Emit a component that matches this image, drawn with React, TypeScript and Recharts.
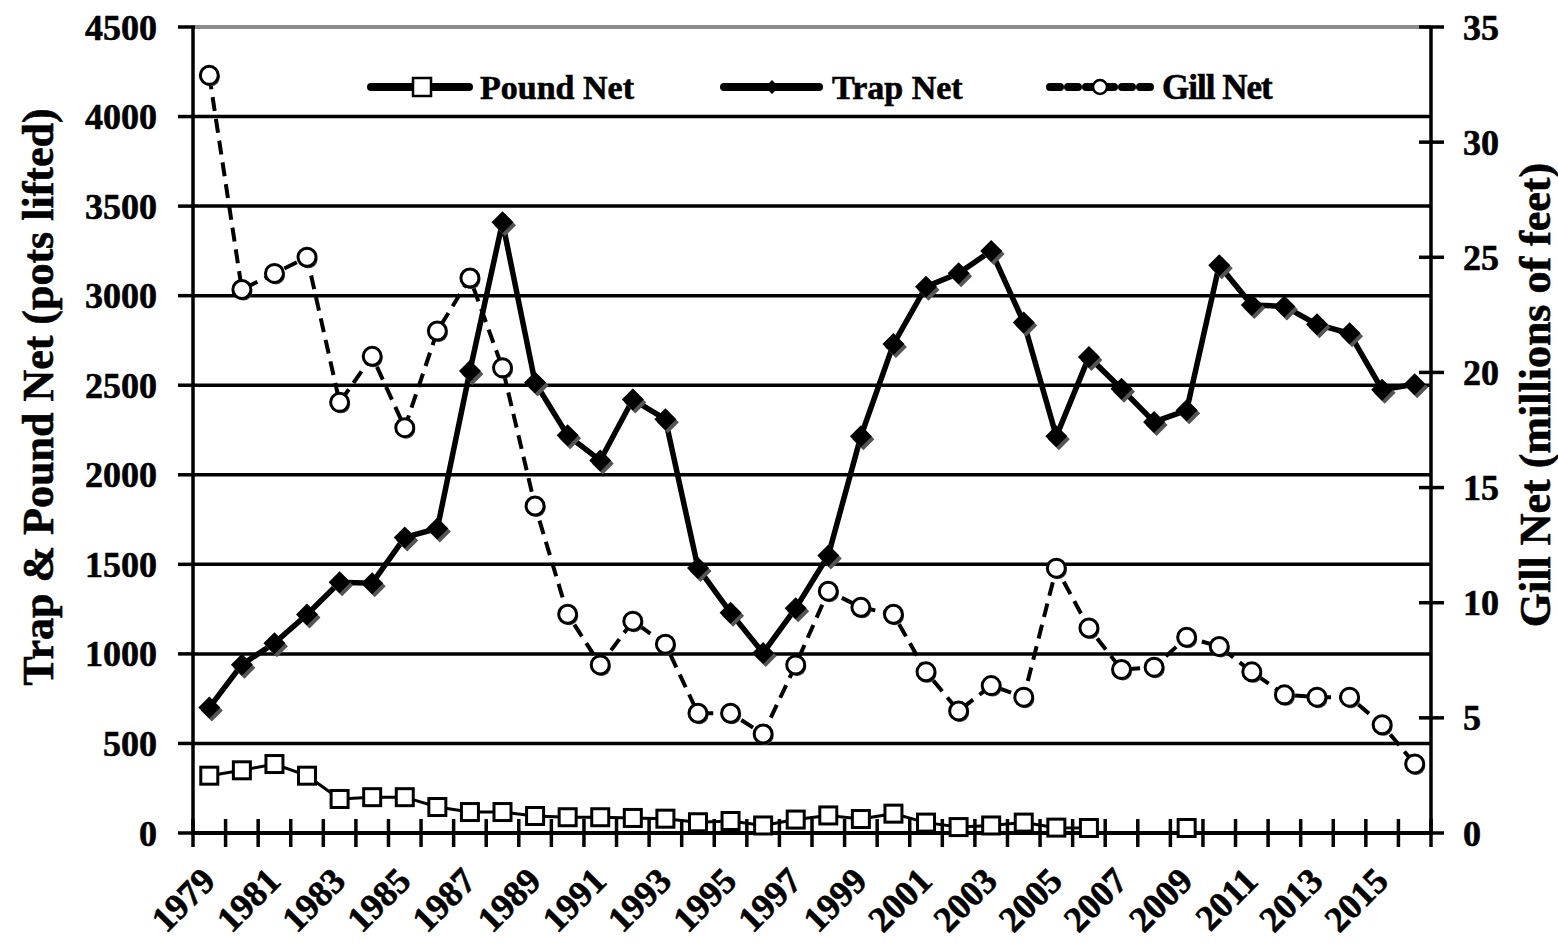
import React from 'react';
import { LineChart, Line, XAxis, YAxis, CartesianGrid, ReferenceLine } from 'recharts';

const years = [
  '1979', '1980', '1981', '1982', '1983', '1984', '1985', '1986', '1987', '1988',
  '1989', '1990', '1991', '1992', '1993', '1994', '1995', '1996', '1997', '1998',
  '1999', '2000', '2001', '2002', '2003', '2004', '2005', '2006', '2007', '2008',
  '2009', '2010', '2011', '2012', '2013', '2014', '2015', '2016',
];

// Pound Net (pots lifted), left axis
const poundNet: (number | null)[] = [
  320, 350, 385, 320, 190, 200, 200, 145, 117, 117,
  95, 88, 88, 84, 80, 60, 67, 42, 75, 98,
  78, 108, 58, 33, 42, 58, 30, 28, null, null,
  28, null, null, null, null, null, null, null,
];

// Trap Net (pots lifted), left axis
const trapNet: number[] = [
  700, 940, 1060, 1220, 1400, 1395, 1650, 1700, 2580, 3410,
  2515, 2220, 2080, 2420, 2310, 1480, 1230, 1005, 1255, 1550,
  2215, 2730, 3050, 3125, 3250, 2850, 2215, 2658, 2480, 2295,
  2360, 3170, 2948, 2940, 2840, 2790, 2475, 2505,
];

// Gill Net (millions of feet), right axis
const gillNet: number[] = [
  32.9, 23.6, 24.3, 25.0, 18.7, 20.7, 17.6, 21.8, 24.1, 20.2,
  14.2, 9.5, 7.3, 9.2, 8.2, 5.2, 5.2, 4.3, 7.3, 10.5,
  9.8, 9.5, 7.0, 5.3, 6.4, 5.9, 11.5, 8.9, 7.1, 7.2,
  8.5, 8.1, 7.0, 6.0, 5.9, 5.9, 4.7, 3.0,
];

const leftTicks = [0, 500, 1000, 1500, 2000, 2500, 3000, 3500, 4000, 4500];
const rightTicks = [0, 5, 10, 15, 20, 25, 30, 35];

const seriesNames = { pound: 'Pound Net', trap: 'Trap Net', gill: 'Gill Net' };
const leftTitle = 'Trap & Pound Net  (pots lifted)';
const rightTitle = 'Gill Net (millions  of feet)';

const data = years.map((year, i) => ({
  year,
  pound: poundNet[i],
  trap: trapNet[i],
  gill: gillNet[i],
}));

const W = 1558;
const H = 943;
const PLOT_LEFT = 193;
const PLOT_RIGHT = 1431;
const PLOT_TOP = 27;
const PLOT_BOTTOM = 833;
const LEFT_AXIS_W = 120;
const RIGHT_AXIS_W = 70;
const X_AXIS_H = 100;
const margin = {
  top: PLOT_TOP,
  left: PLOT_LEFT - LEFT_AXIS_W,
  right: W - PLOT_RIGHT - RIGHT_AXIS_W,
  bottom: H - PLOT_BOTTOM - X_AXIS_H,
};
const HALF_BAND = (PLOT_RIGHT - PLOT_LEFT) / years.length / 2;
const FONT = '"Liberation Serif", "Times New Roman", Times, serif';
const TEXT_STROKE = 0.6;

const XTick = (props: any) => {
  const { x, y, payload } = props;
  const index = payload?.index ?? props.index ?? 0;
  const isLast = index === years.length - 1;
  const lx = x + 8;
  const ly = y + 50;
  return (
    <g>
      <line x1={x - HALF_BAND} x2={x - HALF_BAND} y1={y - 14} y2={y + 14} stroke="#000" strokeWidth={3.5} />
      {isLast && (
        <line x1={x + HALF_BAND} x2={x + HALF_BAND} y1={y - 14} y2={y + 14} stroke="#000" strokeWidth={3.5} />
      )}
      {index % 2 === 0 && (
        <text
          x={lx}
          y={ly}
          transform={`rotate(-45 ${lx} ${ly})`}
          textAnchor="end"
          fontFamily={FONT}
          fontWeight="bold"
          fontSize={36}
          fill="#000"
          stroke="#000"
          strokeWidth={TEXT_STROKE}
        >
          {payload.value}
        </text>
      )}
    </g>
  );
};

const LeftTick = (props: any) => {
  const { x, y, payload } = props;
  return (
    <g>
      <line x1={x - 15} x2={x + 2} y1={y} y2={y} stroke="#000" strokeWidth={3.5} />
      <text
        x={x - 36}
        y={y}
        dy="0.35em"
        textAnchor="end"
        fontFamily={FONT}
        fontWeight="bold"
        fontSize={36}
        fill="#000"
        stroke="#000"
        strokeWidth={TEXT_STROKE}
      >
        {payload.value}
      </text>
    </g>
  );
};

const RightTick = (props: any) => {
  const { x, y, payload } = props;
  return (
    <g>
      <line x1={x - 12} x2={x + 13} y1={y} y2={y} stroke="#000" strokeWidth={3.5} />
      <text
        x={x + 32}
        y={y}
        dy="0.35em"
        textAnchor="start"
        fontFamily={FONT}
        fontWeight="bold"
        fontSize={36}
        fill="#000"
        stroke="#000"
        strokeWidth={TEXT_STROKE}
      >
        {payload.value}
      </text>
    </g>
  );
};

const PoundDot = (p: any) => {
  const { cx, cy, index } = p;
  if (cx == null || cy == null || p.value == null) return <g key={`pd${index}`} />;
  const s = 17;
  return (
    <rect key={`pd${index}`} x={cx - s / 2} y={cy - s / 2} width={s} height={s} fill="#fff" stroke="#000" strokeWidth={3} />
  );
};

const TrapDot = (p: any) => {
  const { cx, cy, index } = p;
  if (cx == null || cy == null) return <g key={`td${index}`} />;
  const r = 11;
  const pts = (ox: number, oy: number) =>
    `${cx + ox},${cy - r + oy} ${cx + r + ox},${cy + oy} ${cx + ox},${cy + r + oy} ${cx - r + ox},${cy + oy}`;
  return (
    <g key={`td${index}`}>
      <polygon points={pts(2.5, 3)} fill="#555" />
      <polygon points={pts(0, 0)} fill="#000" />
    </g>
  );
};

const GillDot = (p: any) => {
  const { cx, cy, index } = p;
  if (cx == null || cy == null) return <g key={`gd${index}`} />;
  return (
    <g key={`gd${index}`}>
      <circle cx={cx + 1.5} cy={cy + 2} r={9} fill="#444" />
      <circle cx={cx} cy={cy} r={9} fill="#fff" stroke="#000" strokeWidth={3} />
    </g>
  );
};

const Overlay = () => {
  const ty = 99;
  const ly = 87;
  const textProps = {
    fontFamily: FONT,
    fontWeight: 'bold' as const,
    fill: '#000',
    stroke: '#000',
    strokeWidth: TEXT_STROKE,
  };
  return (
    <svg width={W} height={H} style={{ position: 'absolute', left: 0, top: 0, pointerEvents: 'none' }}>
      {/* legend: Pound Net */}
      <line x1={371} x2={469} y1={ly} y2={ly} stroke="#000" strokeWidth={8} strokeLinecap="round" />
      <rect x={422 - 9} y={ly - 9} width={18} height={18} fill="#fff" stroke="#000" strokeWidth={2.5} />
      <text x={480} y={ty} fontSize={34} {...textProps}>{seriesNames.pound}</text>
      {/* legend: Trap Net */}
      <line x1={724} x2={819} y1={ly} y2={ly} stroke="#000" strokeWidth={8} strokeLinecap="round" />
      <polygon points={`772,${ly - 7} 779,${ly} 772,${ly + 7} 765,${ly}`} fill="#000" />
      <text x={832} y={ty} fontSize={34} {...textProps}>{seriesNames.trap}</text>
      {/* legend: Gill Net */}
      <line x1={1050} x2={1152} y1={ly} y2={ly} stroke="#000" strokeWidth={8} strokeLinecap="round" strokeDasharray="10 8" />
      <circle cx={1100} cy={ly} r={7} fill="#fff" stroke="#000" strokeWidth={2.5} />
      <text x={1162} y={ty} fontSize={35} letterSpacing={-1} {...textProps}>{seriesNames.gill}</text>
      {/* axis titles */}
      <text
        x={38}
        y={397}
        transform="rotate(-90 38 397)"
        textAnchor="middle"
        dominantBaseline="central"
        fontSize={44}
        {...textProps}
      >
        {leftTitle}
      </text>
      <text
        x={1535}
        y={395}
        transform="rotate(-90 1535 395)"
        textAnchor="middle"
        dominantBaseline="central"
        fontSize={44}
        {...textProps}
      >
        {rightTitle}
      </text>
    </svg>
  );
};

export default function App() {
  return (
    <div style={{ position: 'absolute', left: 0, top: 0, width: W, height: H, background: '#fff' }}>
      <LineChart width={W} height={H} data={data} margin={margin}>
        <CartesianGrid yAxisId="left" vertical={false} stroke="#000" strokeWidth={3.5} />
        <XAxis
          dataKey="year"
          scale="band"
          interval={0}
          height={X_AXIS_H}
          tickSize={0}
          tickMargin={0}
          tickLine={false}
          axisLine={{ stroke: '#000', strokeWidth: 4 }}
          tick={XTick}
        />
        <YAxis
          yAxisId="left"
          orientation="left"
          width={LEFT_AXIS_W}
          domain={[0, 4500]}
          ticks={leftTicks}
          interval={0}
          tickSize={0}
          tickMargin={0}
          tickLine={false}
          axisLine={{ stroke: '#000', strokeWidth: 3.5 }}
          tick={LeftTick}
        />
        <YAxis
          yAxisId="right"
          orientation="right"
          width={RIGHT_AXIS_W}
          domain={[0, 35]}
          ticks={rightTicks}
          interval={0}
          tickSize={0}
          tickMargin={0}
          tickLine={false}
          axisLine={{ stroke: '#000', strokeWidth: 3.5 }}
          tick={RightTick}
        />
        <ReferenceLine yAxisId="left" y={4500} stroke="#8c8c8c" strokeWidth={4} />
        <Line
          yAxisId="left"
          dataKey="pound"
          name={seriesNames.pound}
          stroke="#000"
          strokeWidth={3}
          dot={PoundDot}
          activeDot={false}
          connectNulls={false}
          isAnimationActive={false}
        />
        <Line
          yAxisId="left"
          dataKey="trap"
          name={seriesNames.trap}
          stroke="#000"
          strokeWidth={5.5}
          dot={TrapDot}
          activeDot={false}
          isAnimationActive={false}
        />
        <Line
          yAxisId="right"
          dataKey="gill"
          name={seriesNames.gill}
          stroke="#000"
          strokeWidth={4}
          strokeDasharray="14 8"
          dot={GillDot}
          activeDot={false}
          isAnimationActive={false}
        />
      </LineChart>
      <Overlay />
    </div>
  );
}
